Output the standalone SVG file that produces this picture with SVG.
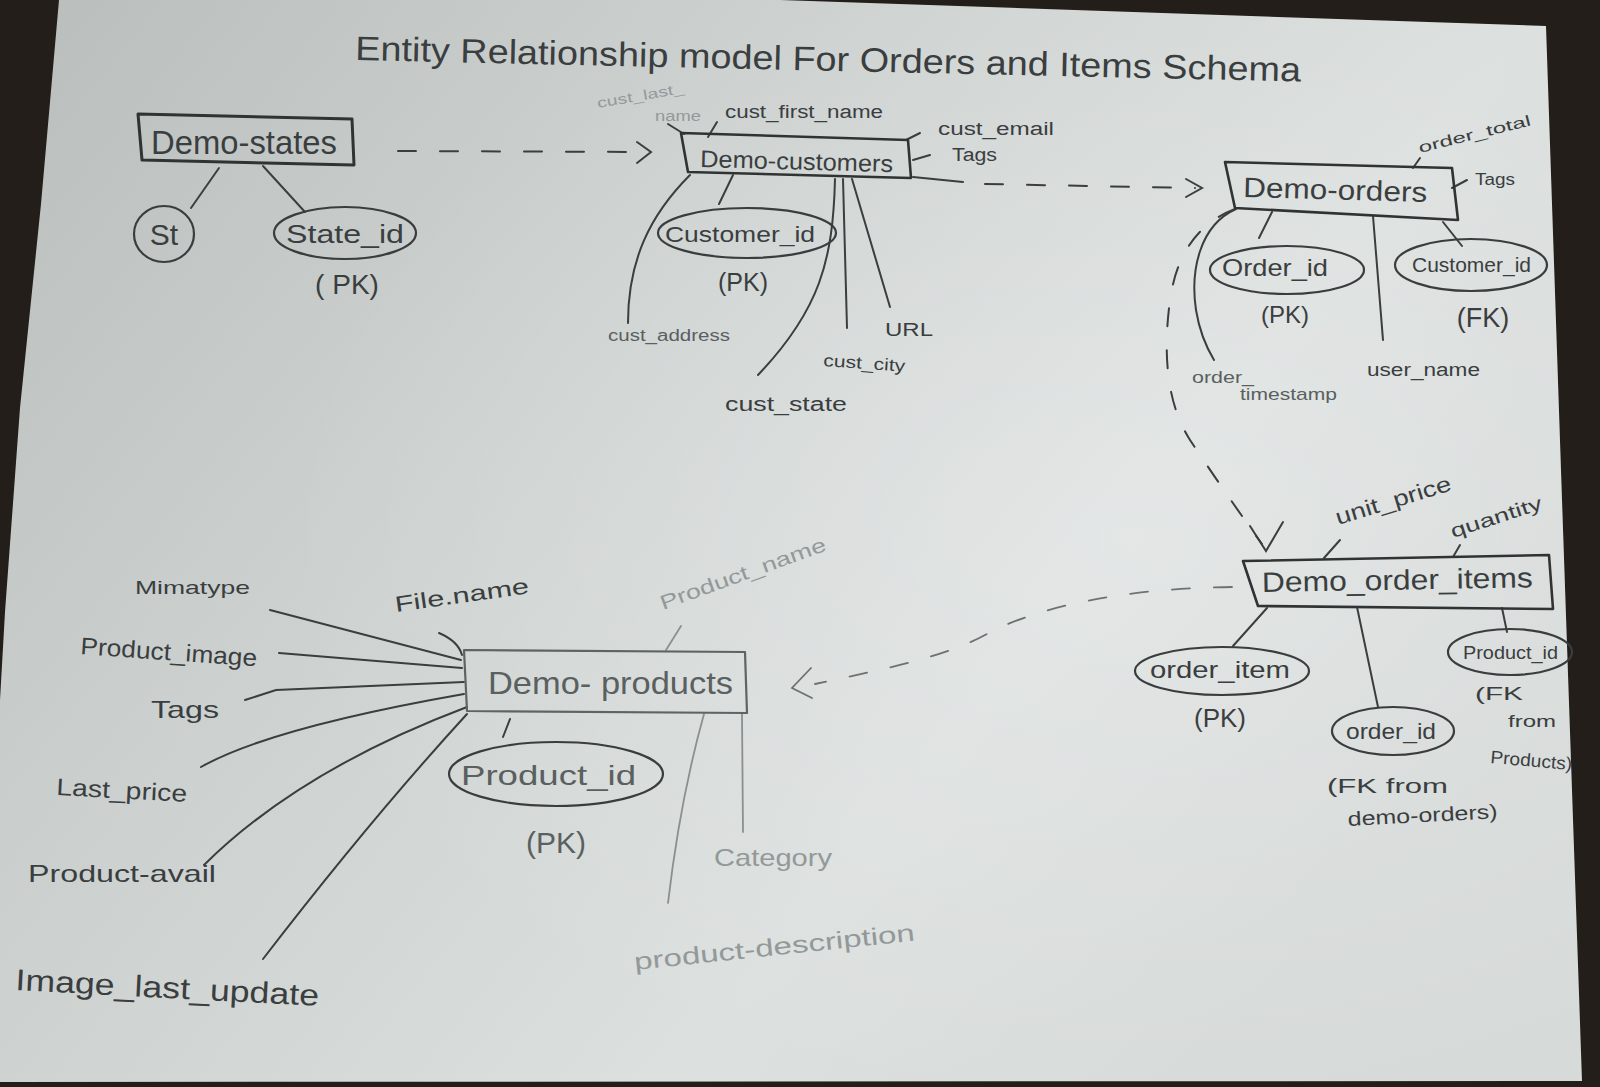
<svg xmlns="http://www.w3.org/2000/svg" width="1600" height="1087" viewBox="0 0 1600 1087">
<style>
.t{font-family:"Liberation Sans",Arial,sans-serif;fill:#3a3e3f}
.m{fill:#5a5f5f}
.lt{fill:#939999}
.ln{stroke:#3a3e3f;stroke-width:2;fill:none;stroke-linecap:round}
.lnl{stroke:#8a9090;stroke-width:1.8;fill:none;stroke-linecap:round}
.box{fill:none;stroke:#2f3334;stroke-width:2.6;stroke-linejoin:round}
.ell{fill:none;stroke:#393d3e;stroke-width:2.2}
.dash{stroke-dasharray:18 24}
</style>
<defs>
<linearGradient id="paper" x1="0" y1="0" x2="1" y2="0.55">
<stop offset="0" stop-color="#b9bebd"/>
<stop offset="0.35" stop-color="#cbd0cf"/>
<stop offset="0.75" stop-color="#dce0df"/>
<stop offset="1" stop-color="#d6dad9"/>
</linearGradient>
<radialGradient id="glow" cx="0.72" cy="0.5" r="0.55">
<stop offset="0" stop-color="#ffffff" stop-opacity="0.22"/>
<stop offset="1" stop-color="#ffffff" stop-opacity="0"/>
</radialGradient>
</defs>
<rect width="1600" height="1087" fill="#231e1a"/>
<path d="M59,0 L780,0 L1546,26 L1562,500 L1582,1081 L0,1082 L0,700 L5,612 L20,408 L41,204 Z" fill="url(#paper)"/>
<path d="M59,0 L780,0 L1546,26 L1562,500 L1582,1081 L0,1082 L0,700 L5,612 L20,408 L41,204 Z" fill="url(#glow)"/>

<g id="title">
<text class="t" x="355" y="60" font-size="34" textLength="946" lengthAdjust="spacingAndGlyphs" transform="rotate(1.3 355 60)">Entity Relationship model For Orders and Items Schema</text>
</g>

<g id="connectors">
<path class="ln dash" d="M398,151 L646,152"/>
<path class="ln" d="M637,142 L651,152 L637,163"/>
<path class="ln" d="M913,177 L963,182"/>
<path class="ln dash" d="M985,184 L1195,188"/>
<path class="ln" d="M1186,179 L1202,188 L1186,197"/>
<path class="ln dash" d="M1235,209 Q1180,230 1170,300 Q1158,390 1190,440 Q1230,500 1262,544"/>
<path class="ln" d="M1250,526 L1266,551 L1283,522"/>
<path class="lnl dash" style="stroke:#6c7272" d="M1232,587 C1130,588 1040,605 985,635 C945,657 880,670 815,684"/>
<path class="lnl" style="stroke:#6c7272" d="M811,668 L792,688 L812,698"/>
<path class="ln" d="M219,168 L191,208"/>
<path class="ln" d="M263,166 L305,212"/>
<path class="ln" d="M668,124 L684,134"/>
<path class="ln" d="M717,122 L708,137"/>
<path class="ln" d="M920,133 L906,140"/>
<path class="ln" d="M930,155 L913,160"/>
<path class="ln" d="M733,175 L719,204"/>
<path class="ln" d="M690,175 C650,215 628,260 628,323"/>
<path class="ln" d="M835,179 C833,260 820,310 758,375"/>
<path class="ln" d="M843,179 L847,328"/>
<path class="ln" d="M852,179 L890,307"/>
<path class="ln" d="M1420,158 L1413,168"/>
<path class="ln" d="M1467,180 L1452,188"/>
<path class="ln" d="M1272,212 L1259,238"/>
<path class="ln" d="M1443,222 L1462,246"/>
<path class="ln" d="M1373,216 L1383,340"/>
<path class="ln" d="M1236,209 C1200,225 1190,270 1196,310 C1200,335 1208,350 1214,360"/>
<path class="ln" d="M1340,540 L1324,558"/>
<path class="ln" d="M1460,545 L1453,557"/>
<path class="ln" d="M1267,608 L1233,646"/>
<path class="ln" d="M1357,607 L1378,707"/>
<path class="ln" d="M1502,608 L1507,632"/>
<path class="ln" d="M270,610 L461,660"/>
<path class="ln" d="M279,653 L462,668"/>
<path class="ln" d="M245,700 L276,690 L464,682"/>
<path class="ln" d="M201,767 Q270,728 464,694"/>
<path class="ln" d="M204,865 Q300,770 467,707"/>
<path class="ln" d="M263,959 Q370,820 467,714"/>
<path class="ln" d="M439,633 Q458,641 462,655"/>
<path class="lnl" d="M681,626 L666,650"/>
<path class="ln" d="M510,719 L503,737"/>
<path class="lnl" d="M742,714 L743,832"/>
<path class="lnl" d="M704,714 Q680,800 668,903"/>
</g>

<g id="demo-states">
<polygon class="box" style="stroke-width:3" points="138,114 352,119 354,165 142,160"/>
<text class="t" x="151" y="154" font-size="34" textLength="186" lengthAdjust="spacingAndGlyphs">Demo-states</text>
</g>
<g id="st">
<ellipse class="ell" cx="164" cy="234" rx="30" ry="28"/>
<text class="t" x="164" y="245" font-size="30" text-anchor="middle">St</text>
</g>
<g id="state-id">
<ellipse class="ell" cx="345" cy="233" rx="71" ry="26"/>
<text class="t" x="286" y="243" font-size="26" textLength="118" lengthAdjust="spacingAndGlyphs">State_id</text>
<text class="t" x="347" y="294" font-size="28" text-anchor="middle">( PK)</text>
</g>

<g id="demo-customers">
<polygon class="box" points="681,133 908,140 911,178 688,172"/>
<text class="t" x="700" y="167" font-size="24" textLength="193" lengthAdjust="spacingAndGlyphs" transform="rotate(1.5 700 167)">Demo-customers</text>
</g>
<g id="cust-last-name">
<text class="t lt" x="598" y="108" font-size="14" textLength="88" lengthAdjust="spacingAndGlyphs" transform="rotate(-10 598 108)">cust_last_</text>
<text class="t lt" x="655" y="121" font-size="14" textLength="46" lengthAdjust="spacingAndGlyphs">name</text>
</g>
<g id="cust-first-name"><text class="t" x="725" y="118" font-size="18" textLength="158" lengthAdjust="spacingAndGlyphs">cust_first_name</text></g>
<g id="cust-email"><text class="t" x="938" y="135" font-size="18" textLength="116" lengthAdjust="spacingAndGlyphs">cust_email</text></g>
<g id="cust-tags"><text class="t" x="952" y="161" font-size="18" textLength="45" lengthAdjust="spacingAndGlyphs">Tags</text></g>
<g id="customer-id">
<ellipse class="ell" cx="747" cy="233" rx="89" ry="25"/>
<text class="t" x="665" y="242" font-size="22" textLength="150" lengthAdjust="spacingAndGlyphs">Customer_id</text>
<text class="t" x="743" y="291" font-size="25" text-anchor="middle">(PK)</text>
</g>
<g id="cust-address"><text class="t m" x="608" y="341" font-size="16" textLength="122" lengthAdjust="spacingAndGlyphs">cust_address</text></g>
<g id="cust-state"><text class="t" x="725" y="411" font-size="20" textLength="122" lengthAdjust="spacingAndGlyphs">cust_state</text></g>
<g id="cust-city"><text class="t" x="823" y="366" font-size="17" textLength="82" lengthAdjust="spacingAndGlyphs" transform="rotate(4 823 366)">cust_city</text></g>
<g id="url"><text class="t" x="885" y="336" font-size="19" textLength="48" lengthAdjust="spacingAndGlyphs">URL</text></g>

<g id="demo-orders">
<polygon class="box" points="1225,162 1452,168 1458,220 1235,208"/>
<text class="t" x="1243" y="197" font-size="28" textLength="184" lengthAdjust="spacingAndGlyphs" transform="rotate(1.5 1243 197)">Demo-orders</text>
</g>
<g id="order-total"><text class="t" x="1420" y="153" font-size="15" textLength="115" lengthAdjust="spacingAndGlyphs" transform="rotate(-14 1420 153)">order_total</text></g>
<g id="order-tags"><text class="t" x="1475" y="185" font-size="16" textLength="40" lengthAdjust="spacingAndGlyphs">Tags</text></g>
<g id="order-id">
<ellipse class="ell" cx="1287" cy="270" rx="77" ry="24"/>
<text class="t" x="1222" y="276" font-size="24" textLength="106" lengthAdjust="spacingAndGlyphs">Order_id</text>
<text class="t" x="1285" y="323" font-size="24" text-anchor="middle">(PK)</text>
</g>
<g id="order-customer-id">
<ellipse class="ell" cx="1471" cy="265" rx="76" ry="26"/>
<text class="t" x="1412" y="272" font-size="20" textLength="119" lengthAdjust="spacingAndGlyphs">Customer_id</text>
<text class="t" x="1483" y="327" font-size="27" text-anchor="middle">(FK)</text>
</g>
<g id="user-name"><text class="t" x="1367" y="376" font-size="18" textLength="113" lengthAdjust="spacingAndGlyphs">user_name</text></g>
<g id="order-timestamp">
<text class="t m" x="1192" y="383" font-size="17" textLength="62" lengthAdjust="spacingAndGlyphs">order_</text>
<text class="t m" x="1240" y="400" font-size="17" textLength="97" lengthAdjust="spacingAndGlyphs">timestamp</text>
</g>

<g id="demo-order-items">
<polygon class="box" points="1243,561 1549,555 1553,609 1258,606"/>
<text class="t" x="1262" y="592" font-size="28" textLength="271" lengthAdjust="spacingAndGlyphs" transform="rotate(-1 1262 592)">Demo_order_items</text>
</g>
<g id="unit-price"><text class="t" x="1338" y="525" font-size="22" textLength="120" lengthAdjust="spacingAndGlyphs" transform="rotate(-17 1338 525)">unit_price</text></g>
<g id="quantity"><text class="t" x="1453" y="538" font-size="19" textLength="95" lengthAdjust="spacingAndGlyphs" transform="rotate(-18 1453 538)">quantity</text></g>
<g id="order-item">
<ellipse class="ell" cx="1222" cy="671" rx="87" ry="24"/>
<text class="t" x="1150" y="678" font-size="24" textLength="140" lengthAdjust="spacingAndGlyphs">order_item</text>
<text class="t" x="1220" y="727" font-size="26" text-anchor="middle">(PK)</text>
</g>
<g id="item-order-id">
<ellipse class="ell" cx="1393" cy="731" rx="61" ry="24"/>
<text class="t" x="1346" y="739" font-size="22" textLength="90" lengthAdjust="spacingAndGlyphs">order_id</text>
<text class="t" x="1327" y="793" font-size="20" textLength="121" lengthAdjust="spacingAndGlyphs">(FK from</text>
<text class="t" x="1348" y="826" font-size="20" textLength="150" lengthAdjust="spacingAndGlyphs" transform="rotate(-3 1348 826)">demo-orders)</text>
</g>
<g id="item-product-id">
<ellipse class="ell" cx="1510" cy="652" rx="62" ry="23"/>
<text class="t" x="1463" y="659" font-size="18" textLength="95" lengthAdjust="spacingAndGlyphs">Product_id</text>
<text class="t" x="1475" y="700" font-size="18" textLength="48" lengthAdjust="spacingAndGlyphs">(FK</text>
<text class="t" x="1508" y="727" font-size="17" textLength="48" lengthAdjust="spacingAndGlyphs">from</text>
<text class="t" x="1490" y="763" font-size="18" textLength="82" lengthAdjust="spacingAndGlyphs" transform="rotate(5 1490 763)">Products)</text>
</g>

<g id="demo-products">
<polygon class="box" style="stroke:#5e6363;stroke-width:2.2" points="464,650 745,652 747,713 467,711"/>
<text class="t m" x="488" y="694" font-size="32" textLength="245" lengthAdjust="spacingAndGlyphs">Demo- products</text>
</g>
<g id="file-name"><text class="t" x="396" y="612" font-size="22" textLength="135" lengthAdjust="spacingAndGlyphs" transform="rotate(-8 396 612)">File.name</text></g>
<g id="product-name"><text class="t lt" x="663" y="610" font-size="20" textLength="175" lengthAdjust="spacingAndGlyphs" transform="rotate(-20 663 610)">Product_name</text></g>
<g id="mimatype"><text class="t" x="135" y="594" font-size="19" textLength="115" lengthAdjust="spacingAndGlyphs">Mimatype</text></g>
<g id="product-image"><text class="t" x="80" y="654" font-size="24" textLength="177" lengthAdjust="spacingAndGlyphs" transform="rotate(4 80 654)">Product_image</text></g>
<g id="product-tags"><text class="t" x="151" y="718" font-size="24" textLength="68" lengthAdjust="spacingAndGlyphs">Tags</text></g>
<g id="last-price"><text class="t" x="56" y="795" font-size="24" textLength="131" lengthAdjust="spacingAndGlyphs" transform="rotate(3 56 795)">Last_price</text></g>
<g id="product-avail"><text class="t" x="28" y="882" font-size="24" textLength="188" lengthAdjust="spacingAndGlyphs">Product-avail</text></g>
<g id="image-last-update"><text class="t" x="15" y="990" font-size="30" textLength="304" lengthAdjust="spacingAndGlyphs" transform="rotate(3 15 990)">Image_last_update</text></g>
<g id="product-id">
<ellipse class="ell" cx="556" cy="774" rx="107" ry="32"/>
<text class="t m" x="461" y="785" font-size="28" textLength="175" lengthAdjust="spacingAndGlyphs">Product_id</text>
<text class="t m" x="556" y="853" font-size="30" text-anchor="middle">(PK)</text>
</g>
<g id="category"><text class="t lt" x="714" y="866" font-size="24" textLength="118" lengthAdjust="spacingAndGlyphs">Category</text></g>
<g id="product-description"><text class="t lt" x="635" y="970" font-size="24" textLength="282" lengthAdjust="spacingAndGlyphs" transform="rotate(-6 635 970)">product-description</text></g>
</svg>
